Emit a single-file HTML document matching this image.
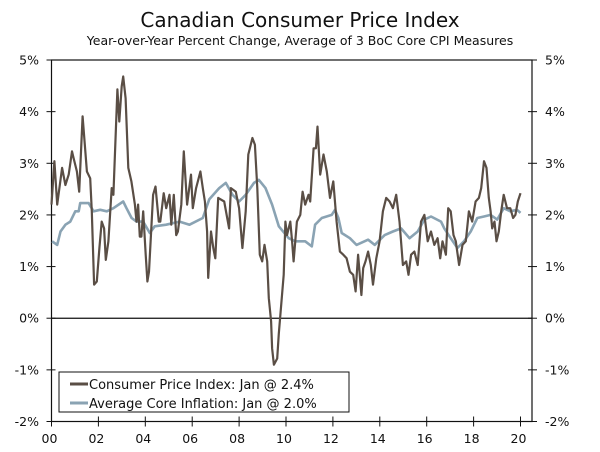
<!DOCTYPE html>
<html><head><meta charset="utf-8"><style>
body{margin:0;background:#fff;}
svg text{font-family:"DejaVu Sans","Liberation Sans",sans-serif;fill:#111;}
</style></head><body>
<svg width="600" height="447" viewBox="0 0 600 447" xmlns="http://www.w3.org/2000/svg" id="chart">
<text x="300" y="27" text-anchor="middle" font-size="20">Canadian Consumer Price Index</text>
<text x="300" y="45" text-anchor="middle" font-size="12.5">Year-over-Year Percent Change, Average of 3 BoC Core CPI Measures</text>
<g id="axes"></g>
<g id="series"></g>
<g>
<rect x="59" y="372" width="290" height="40" fill="#fff" stroke="#111" stroke-width="1"/>
<line x1="70" y1="384" x2="88" y2="384" stroke="#5a4e45" stroke-width="3"/>
<text x="89" y="389" font-size="13">Consumer Price Index: Jan @ 2.4%</text>
<line x1="70" y1="403" x2="88" y2="403" stroke="#8aa3b3" stroke-width="3"/>
<text x="89" y="408" font-size="13">Average Core Inflation: Jan @ 2.0%</text>
</g>
</svg>
<script>
const cpiMonths=[0,1.5,2.9,5.4,7.1,8.8,10.5,11.3,13.0,14.2,15.9,18.1,19.8,20.6,21.8,23.2,24.5,25.7,26.9,27.8,29.1,30.8,31.7,33.7,34.7,35.9,36.7,37.9,39.3,40.9,42.7,43.5,44.3,45.2,46.0,46.9,48.2,49.1,49.9,52.0,53.2,54.9,55.7,57.4,58.7,60.4,61.3,62.6,63.8,64.7,66.4,67.7,69.4,71.4,72.3,74.0,76.2,77.4,78.5,79.6,80.2,81.6,82.8,83.8,85.3,88.4,90.9,91.8,94.3,96.0,97.7,99.4,100.7,102.8,104.1,105.3,106.6,107.8,109.0,110.4,111.2,112.4,112.9,113.8,115.5,116.3,118.8,119.7,120.5,122.2,123.1,123.9,125.6,127.3,128.5,129.8,131.5,132.4,134.1,135.3,136.1,137.5,139.2,140.9,142.5,144.2,145.9,147.6,149.3,151.0,152.7,154.4,155.6,156.9,158.6,159.5,160.7,162.0,163.4,164.5,166.2,167.9,169.6,171.3,173.0,174.7,176.4,178.1,179.8,181.5,182.7,184.0,185.7,187.4,189.1,190.8,192.5,194.2,195.9,197.6,198.9,200.1,201.8,203.0,204.3,205.7,206.9,208.6,210.3,212.0,213.6,215.3,217.0,218.7,219.9,221.3,222.6,223.8,224.7,225.5,226.7,227.7,228.9,230.1,231.4,233.1,234.8,236.2,237.4,238.6,240.0];
const cpiValues=[2.20,3.04,2.20,2.91,2.58,2.78,3.23,3.10,2.84,2.45,3.91,2.84,2.71,2.07,0.65,0.71,1.36,1.87,1.74,1.13,1.49,2.52,2.39,4.43,3.81,4.49,4.68,4.26,2.91,2.65,2.20,1.87,2.20,1.58,1.58,2.07,1.23,0.71,0.90,2.39,2.55,1.87,1.87,2.42,2.13,2.39,1.81,2.39,1.61,1.68,2.20,3.23,2.20,2.78,2.13,2.52,2.84,2.52,2.26,1.68,0.78,1.68,1.36,1.16,2.33,2.26,1.74,2.52,2.45,2.13,1.36,2.07,3.17,3.49,3.36,2.52,1.23,1.10,1.42,1.10,0.39,-0.06,-0.58,-0.90,-0.78,-0.30,0.84,1.87,1.61,1.87,1.49,1.10,1.87,2.00,2.45,2.20,2.39,2.26,3.29,3.29,3.71,2.78,3.17,2.84,2.33,2.65,1.87,1.29,1.23,1.16,0.90,0.84,0.52,1.23,0.45,0.97,1.10,1.29,1.03,0.65,1.16,1.49,2.07,2.33,2.26,2.13,2.39,1.87,1.03,1.10,0.84,1.23,1.29,1.03,1.87,2.00,1.49,1.68,1.42,1.55,1.16,1.49,1.23,2.13,2.07,1.61,1.49,1.03,1.42,1.49,2.07,1.87,2.26,2.33,2.52,3.04,2.91,2.33,2.07,1.74,1.87,1.49,1.68,2.07,2.39,2.13,2.13,1.94,2.00,2.26,2.42];
const coreMonths=[0.3,2.9,4.6,7.1,9.6,12.2,13.9,14.7,19.0,21.5,24.9,28.3,31.7,36.7,38.4,41.0,43.5,46.9,50.3,52.8,58.7,65.5,70.6,77.4,80.7,85.8,89.2,92.6,96.0,99.4,103.6,106.1,109.5,112.9,116.3,121.4,124.8,129.8,133.2,134.9,138.3,143.4,145.1,146.8,148.5,152.7,156.1,162.0,165.4,170.5,174.7,178.9,183.2,187.4,190.8,194.2,199.3,201.0,204.3,207.7,211.1,214.5,217.9,221.3,224.7,228.1,231.4,234.8,238.2,240.0];
const coreValues=[1.49,1.42,1.68,1.81,1.87,2.07,2.07,2.23,2.23,2.07,2.10,2.07,2.13,2.26,2.13,1.94,1.87,1.87,1.65,1.78,1.81,1.87,1.81,1.94,2.30,2.52,2.62,2.39,2.26,2.39,2.62,2.68,2.52,2.20,1.78,1.55,1.49,1.49,1.39,1.81,1.94,2.00,2.10,1.94,1.65,1.55,1.42,1.52,1.42,1.61,1.68,1.74,1.55,1.68,1.91,1.97,1.87,1.74,1.55,1.36,1.49,1.68,1.94,1.97,2.00,1.91,2.13,2.07,2.10,2.04];
const yTicks=[5,4,3,2,1,0,-1,-2];
const xTickYears=[0,2,4,6,8,10,12,14,16,18,20];
const xTickLabels=["00","02","04","06","08","10","12","14","16","18","20"];

const NS="http://www.w3.org/2000/svg";
const L=51.5,R=532,T=60,B=421.5;
const xScale=m=>L+m*(23.45/12);
const yScale=v=>T+(5-v)*(B-T)/7;
function mk(tag,attrs,parent){const e=document.createElementNS(NS,tag);for(const k in attrs)e.setAttribute(k,attrs[k]);parent.appendChild(e);return e;}
const axes=document.getElementById('axes'),series=document.getElementById('series');

const frame=mk('rect',{x:L,y:T,width:R-L,height:B-T,fill:'none',stroke:'#111','stroke-width':1.2},axes);


const zero=mk('line',{x1:L,x2:R,y1:yScale(0),y2:yScale(0),stroke:'#111','stroke-width':1.2},axes);


yTicks.forEach(v=>{
  const y=yScale(v);
  const t1=mk('line',{x1:L-5,x2:L+4,y1:y,y2:y,stroke:'#111'},axes);
  
  
  const t2=mk('line',{x1:R-4,x2:R+5,y1:y,y2:y,stroke:'#111'},axes);
  
  
  const a=mk('text',{x:39,y:y+4.5,'text-anchor':'end','font-size':12.5},axes);a.textContent=v+'%';
  
  
  const b=mk('text',{x:545,y:y+4.5,'text-anchor':'start','font-size':12.5},axes);b.textContent=v+'%';
  
  
});
xTickYears.forEach((yr,i)=>{
  const x=xScale(yr*12);
  const t=mk('line',{x1:x,x2:x,y1:B-5,y2:B+5,stroke:'#111'},axes);
  
  
  const lb=mk('text',{x:x-2,y:443,'text-anchor':'middle','font-size':12.5},axes);lb.textContent=xTickLabels[i];
  
  
});
function path(ms,vs){return ms.map((m,i)=>(i?'L':'M')+xScale(m).toFixed(1)+' '+yScale(vs[i]).toFixed(1)).join(' ');}
const core=mk('path',{d:path(coreMonths,coreValues),fill:'none',stroke:'#8aa3b3','stroke-width':2.6,'stroke-linejoin':'round'},series);


const cpi=mk('path',{d:path(cpiMonths,cpiValues),fill:'none',stroke:'#5a4e45','stroke-width':2.2,'stroke-linejoin':'round'},series);


</script>
</body></html>
